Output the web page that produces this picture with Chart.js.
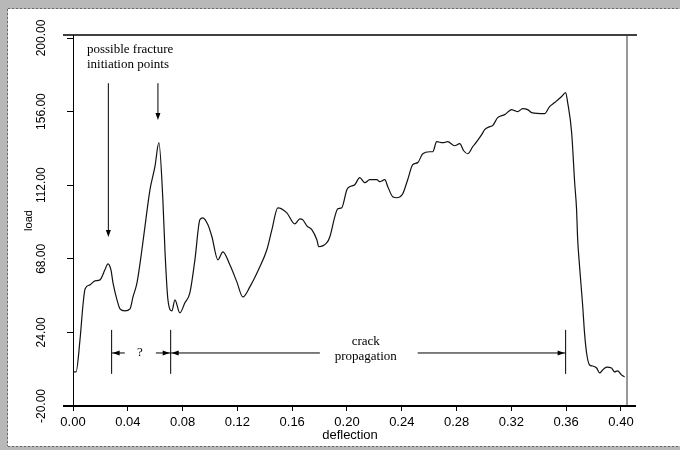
<!DOCTYPE html>
<html lang="en">
<head>
  <meta charset="UTF-8" />
  <title>Load vs deflection</title>
  <script src="https://cdn.jsdelivr.net/npm/chart.js"></script>
  <style>
    body { margin: 0; background: #fff; }
    #wrap { width: 680px; height: 450px; }
  </style>
</head>
<body>
  <div id="wrap"><canvas id="loadChart"></canvas></div>

  <script>
    // values
    const deflection = [0, 0.0022, 0.0051, 0.0073, 0.0088, 0.0124, 0.0160, 0.0197, 0.0233, 0.0255,
      0.0277, 0.0292, 0.0321, 0.0343, 0.0379, 0.0416, 0.0438, 0.0467, 0.0503, 0.0525,
      0.0562, 0.0598, 0.0627, 0.0656, 0.0671, 0.0693, 0.0722, 0.0744, 0.0780, 0.0817,
      0.0853, 0.0890, 0.0926, 0.0948, 0.0985, 0.1014, 0.1058, 0.1094, 0.1145, 0.1196,
      0.1240, 0.1291, 0.1364, 0.1415, 0.1452, 0.1495, 0.1561, 0.1619, 0.1656, 0.1678,
      0.1707, 0.1743, 0.1780, 0.1794, 0.1853, 0.1875, 0.1911, 0.1933, 0.1962, 0.1999,
      0.2020, 0.2057, 0.2093, 0.2130, 0.2166, 0.2217, 0.2239, 0.2276, 0.2298, 0.2334,
      0.2363, 0.2407, 0.2443, 0.2480, 0.2516, 0.2553, 0.2604, 0.2626, 0.2655, 0.2699,
      0.2735, 0.2786, 0.2823, 0.2852, 0.2881, 0.2918, 0.2947, 0.2983, 0.3005, 0.3042,
      0.3063, 0.3100, 0.3151, 0.3202, 0.3224, 0.3246, 0.3282, 0.3319, 0.3348, 0.3443,
      0.3479, 0.3516, 0.3567, 0.3596, 0.3611, 0.3640, 0.3662, 0.3676, 0.3683, 0.3698,
      0.3720, 0.3734, 0.3749, 0.3771, 0.3793, 0.3822, 0.3844, 0.3866, 0.3895, 0.3931,
      0.3953, 0.3975, 0.4004, 0.4026];
    const load = [0.4, 0.4, 19.5, 40.5, 50.0, 52.4, 54.8, 55.4, 61.4, 65.0,
      61.4, 53.6, 43.5, 38.1, 36.9, 38.1, 45.2, 53.6, 73.4, 87.1,
      109.3, 123.1, 137.4, 103.3, 73.4, 43.5, 36.9, 43.5, 35.7, 41.7,
      47.6, 67.4, 91.3, 92.5, 88.3, 81.2, 67.4, 72.2, 64.4, 54.2,
      45.2, 51.2, 63.2, 73.4, 85.4, 98.5, 95.5, 88.9, 91.9, 91.3,
      87.7, 85.4, 79.4, 75.2, 77.6, 81.2, 93.1, 97.9, 98.5, 109.3,
      111.1, 112.3, 116.5, 113.5, 115.3, 115.3, 114.1, 115.3, 111.1, 105.1,
      104.5, 106.9, 115.3, 124.3, 125.5, 130.8, 132.0, 132.0, 138.0, 137.4,
      138.0, 135.6, 136.8, 132.6, 130.8, 135.0, 138.0, 142.2, 145.2, 147.0,
      147.6, 152.4, 154.2, 157.2, 156.6, 156.0, 157.8, 157.2, 155.4, 154.8,
      159.0, 161.4, 165.0, 167.4, 161.4, 143.4, 113.5, 97.3, 81.2, 63.2,
      40.5, 23.7, 11.7, 4.5, 3.9, 2.7, -0.2, 1.5, 3.3, 2.7,
      0.4, 1.0, -1.4, -2.6];

    const xTicks = [0, 0.04, 0.08, 0.12, 0.16, 0.20, 0.24, 0.28, 0.32, 0.36, 0.40];
    const yTicks = [-20, 24, 68, 112, 156, 200];

    const initiationText = ['possible fracture', 'initiation points'];
    const propagationText = ['crack', 'propagation'];

    const serif = '13px "Liberation Serif", "DejaVu Serif", serif';

    function arrowHead(ctx, x, y, dir) {
      ctx.beginPath();
      if (dir === 'down') {
        ctx.moveTo(x, y); ctx.lineTo(x - 2.5, y - 7); ctx.lineTo(x + 2.5, y - 7);
      } else if (dir === 'left') {
        ctx.moveTo(x, y); ctx.lineTo(x + 7, y - 2.5); ctx.lineTo(x + 7, y + 2.5);
      } else {
        ctx.moveTo(x, y); ctx.lineTo(x - 7, y - 2.5); ctx.lineTo(x - 7, y + 2.5);
      }
      ctx.closePath();
      ctx.fill();
    }

    function seg(ctx, x1, y1, x2, y2) {
      ctx.beginPath();
      ctx.moveTo(x1, y1);
      ctx.lineTo(x2, y2);
      ctx.stroke();
    }

    const notes = {
      id: 'notes',
      beforeDraw(chart) {
        const ctx = chart.ctx;
        // scanned page frame
        ctx.save();
        ctx.fillStyle = '#b8b8b8';
        ctx.fillRect(0, 0, chart.width, chart.height);
        ctx.fillStyle = '#fff';
        ctx.fillRect(8, 9, chart.width - 8, 437);
        ctx.strokeStyle = '#666';
        ctx.setLineDash([2, 2]);
        ctx.lineWidth = 1;
        seg(ctx, 8, 8.5, chart.width, 8.5);
        seg(ctx, 7.5, 9, 7.5, 446);
        seg(ctx, 8, 446.5, chart.width, 446.5);
        ctx.restore();
      },
      afterDatasetsDraw(chart) {
        const { ctx, chartArea: a, scales: { x, y } } = chart;
        const X = v => x.getPixelForValue(v);
        const Y = v => y.getPixelForValue(v);
        ctx.save();
        ctx.strokeStyle = '#000';
        ctx.fillStyle = '#000';

        // plot box: top, right, extended bottom axis
        ctx.lineWidth = 1.5;
        seg(ctx, a.left - 10, a.top, a.right + 10, a.top);
        ctx.lineWidth = 1;
        ctx.strokeStyle = '#333';
        seg(ctx, a.right, a.top, a.right, a.bottom);
        ctx.strokeStyle = '#000';
        ctx.lineWidth = 2;
        seg(ctx, a.left - 10, a.bottom, a.right + 9, a.bottom);

        // fracture initiation arrows
        ctx.lineWidth = 1;
        ctx.font = serif;
        ctx.textAlign = 'left';
        ctx.textBaseline = 'middle';
        ctx.fillText(initiationText[0], X(0.0102), Y(193));
        ctx.fillText(initiationText[1], X(0.0102), Y(184));
        seg(ctx, X(0.0258), Y(173), X(0.0258), Y(83));
        arrowHead(ctx, X(0.0258), Y(81), 'down');
        seg(ctx, X(0.062), Y(173), X(0.062), Y(153));
        arrowHead(ctx, X(0.062), Y(151), 'down');

        // brackets
        [0.0282, 0.0713, 0.3596].forEach(v => seg(ctx, X(v), Y(25.5), X(v), Y(-0.8)));
        const hy = Y(11.7);
        seg(ctx, X(0.0282), hy, X(0.0378), hy);
        arrowHead(ctx, X(0.0282) + 1, hy, 'left');
        seg(ctx, X(0.0605), hy, X(0.0713), hy);
        arrowHead(ctx, X(0.0713) - 1, hy, 'right');
        seg(ctx, X(0.0713), hy, X(0.1802), hy);
        arrowHead(ctx, X(0.0713) + 1, hy, 'left');
        seg(ctx, X(0.2516), hy, X(0.3596), hy);
        arrowHead(ctx, X(0.3596) - 1, hy, 'right');

        ctx.textAlign = 'center';
        ctx.fillText('?', X(0.0489), hy);
        ctx.fillText(propagationText[0], X(0.2137), Y(18.3));
        ctx.fillText(propagationText[1], X(0.2137), Y(9.3));
        ctx.restore();
      }
    };

    const ctx = document.getElementById('loadChart').getContext('2d');
    new Chart(ctx, {
      type: 'scatter',
      data: {
        datasets: [{
          data: deflection.map((d, i) => ({ x: d, y: load[i] })),
          showLine: true,
          borderColor: '#111',
          borderWidth: 1.2,
          pointRadius: 0,
          cubicInterpolationMode: 'monotone',
          fill: false
        }]
      },
      options: {
        responsive: true,
        maintainAspectRatio: false,
        animation: false,
        layout: { padding: { left: 0, top: 35, right: 53, bottom: 0 } },
        plugins: { legend: { display: false }, tooltip: { enabled: false } },
        scales: {
          x: {
            type: 'linear',
            min: 0,
            max: 0.4044,
            afterBuildTicks: s => { s.ticks = xTicks.map(v => ({ value: v })); },
            afterFit: s => { s.height = 44; },
            ticks: {
              callback: v => v.toFixed(2),
              color: '#000',
              padding: 4,
              font: { family: '"Liberation Sans", Arial, sans-serif', size: 13 }
            },
            grid: { drawOnChartArea: false, drawTicks: true, tickLength: 5, tickColor: '#000' },
            border: { display: false },
            title: {
              display: true,
              text: 'deflection',
              color: '#000',
              padding: { top: 0, bottom: 7 },
              font: { family: '"Liberation Sans", Arial, sans-serif', size: 13 }
            }
          },
          y: {
            min: -20,
            max: 201.8,
            afterBuildTicks: s => { s.ticks = yTicks.map(v => ({ value: v })); },
            afterFit: s => { s.width = 73; },
            ticks: {
              callback: v => v.toFixed(2),
              color: '#000',
              minRotation: 90,
              maxRotation: 90,
              crossAlign: 'center',
              autoSkip: false,
              padding: 7,
              font: { family: '"Liberation Sans", Arial, sans-serif', size: 12 }
            },
            grid: { drawOnChartArea: false, drawTicks: true, tickLength: 6, tickColor: '#000' },
            border: { display: true, color: '#000', width: 1 },
            title: {
              display: true,
              text: 'load',
              color: '#000',
              padding: { top: 22, bottom: 0 },
              font: { family: '"Liberation Sans", Arial, sans-serif', size: 11 }
            }
          }
        }
      },
      plugins: [notes]
    });
  </script>
</body>
</html>
